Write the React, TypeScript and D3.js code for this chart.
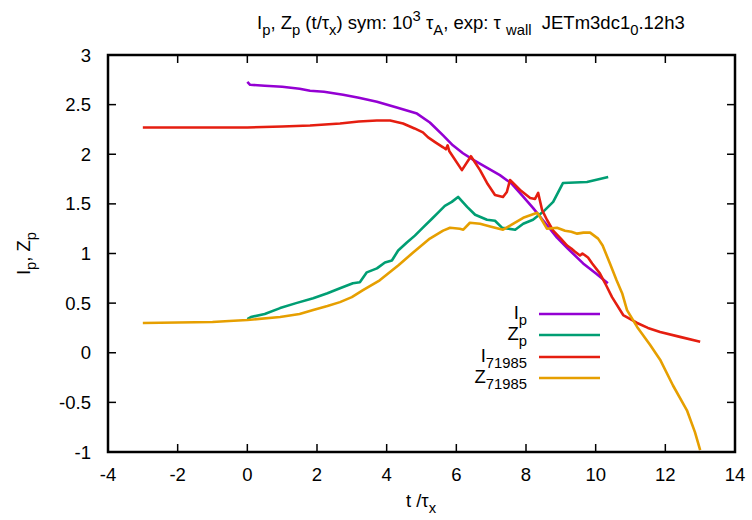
import React from "react";
import * as d3 from "d3";

const W = 752, H = 520;
const M = { left: 108, right: 735, top: 55, bottom: 452 };

const xTicks = [-4, -2, 0, 2, 4, 6, 8, 10, 12, 14];
const yTicks = [-1, -0.5, 0, 0.5, 1, 1.5, 2, 2.5, 3];

const ipT = [0, 0.08, 0.5, 1, 1.5, 1.8, 2.2, 2.75, 3.2, 3.72, 4.29, 4.87, 5.24, 5.62, 5.9, 6.19, 6.5, 6.9, 7.25, 7.6, 7.9, 8.2, 8.5, 8.89, 9.2, 9.64, 10.0, 10.35];
const ipV = [2.73, 2.70, 2.69, 2.68, 2.66, 2.64, 2.63, 2.60, 2.57, 2.53, 2.47, 2.41, 2.32, 2.19, 2.09, 2.01, 1.94, 1.86, 1.79, 1.70, 1.58, 1.46, 1.33, 1.16, 1.05, 0.90, 0.80, 0.70];

const zpT = [0, 0.1, 0.5, 0.94, 1.4, 1.89, 2.3, 2.66, 3.03, 3.23, 3.43, 3.72, 3.95, 4.15, 4.33, 4.58, 4.81, 5.04, 5.3, 5.47, 5.67, 5.87, 6.05, 6.31, 6.54, 6.88, 7.11, 7.31, 7.69, 7.92, 8.2, 8.49, 8.78, 9.06, 9.75, 10.36];
const zpV = [0.34, 0.36, 0.39, 0.45, 0.50, 0.55, 0.60, 0.65, 0.70, 0.71, 0.81, 0.85, 0.91, 0.93, 1.03, 1.11, 1.18, 1.26, 1.35, 1.41, 1.48, 1.52, 1.57, 1.47, 1.39, 1.34, 1.33, 1.26, 1.24, 1.30, 1.34, 1.42, 1.52, 1.71, 1.72, 1.77];

const i71T = [-3, -2, -1, 0, 1, 1.8, 2.66, 3.2, 3.72, 4.1, 4.47, 4.8, 5.04, 5.19, 5.4, 5.62, 5.7, 5.75, 5.8, 6.16, 6.42, 6.68, 6.9, 7.11, 7.34, 7.45, 7.54, 7.6, 7.83, 8.12, 8.26, 8.35, 8.46, 8.6, 8.78, 9.0, 9.18, 9.3, 9.4, 9.55, 9.62, 9.78, 9.9, 10.12, 10.3, 10.47, 10.79, 11.19, 11.5, 11.85, 12.42, 13.0];
const i71V = [2.27, 2.27, 2.27, 2.27, 2.28, 2.29, 2.31, 2.33, 2.34, 2.34, 2.31, 2.26, 2.22, 2.17, 2.12, 2.07, 2.05, 2.09, 2.03, 1.84, 1.98, 1.84, 1.70, 1.59, 1.57, 1.62, 1.74, 1.72, 1.64, 1.56, 1.55, 1.61, 1.44, 1.34, 1.23, 1.15, 1.08, 1.05, 1.02, 0.98, 1.00, 0.96, 0.90, 0.80, 0.68, 0.56, 0.38, 0.30, 0.25, 0.21, 0.16, 0.11];

const z71T = [-3, -2, -1, -0.52, 0, 0.94, 1.5, 1.89, 2.3, 2.66, 3.0, 3.32, 3.8, 4.33, 4.76, 5.24, 5.62, 5.82, 6.1, 6.2, 6.39, 6.68, 7.0, 7.34, 7.54, 7.92, 8.32, 8.4, 8.6, 8.89, 9.12, 9.3, 9.47, 9.65, 9.84, 10.07, 10.2, 10.41, 10.6, 10.76, 10.9, 11.19, 11.56, 11.85, 12.22, 12.62, 12.85, 13.0];
const z71V = [0.30, 0.305, 0.31, 0.32, 0.33, 0.36, 0.39, 0.43, 0.47, 0.51, 0.56, 0.63, 0.73, 0.88, 1.01, 1.15, 1.23, 1.26, 1.25, 1.24, 1.31, 1.30, 1.27, 1.24, 1.28, 1.36, 1.41, 1.37, 1.25, 1.26, 1.23, 1.22, 1.20, 1.21, 1.21, 1.15, 1.08, 0.90, 0.73, 0.60, 0.43, 0.26, 0.08, -0.07, -0.33, -0.58, -0.80, -0.98];

type Seg = { t: string; s?: "sub" | "sup" };

const seriesList: { name: Seg[]; t: number[]; v: number[]; color: string }[] = [
  { name: [{ t: "I" }, { t: "p", s: "sub" }], t: ipT, v: ipV, color: "#9400d3" },
  { name: [{ t: "Z" }, { t: "p", s: "sub" }], t: zpT, v: zpV, color: "#009e73" },
  { name: [{ t: "I" }, { t: "71985", s: "sub" }], t: i71T, v: i71V, color: "#e51e10" },
  { name: [{ t: "Z" }, { t: "71985", s: "sub" }], t: z71T, v: z71V, color: "#e69f00" },
];

const titleSegs: Seg[] = [
  { t: "I" }, { t: "p", s: "sub" }, { t: ", Z" }, { t: "p", s: "sub" }, { t: " (t/τ" }, { t: "x", s: "sub" },
  { t: ") sym: 10" }, { t: "3", s: "sup" }, { t: " τ" }, { t: "A", s: "sub" }, { t: ", exp: τ " }, { t: "wall", s: "sub" },
  { t: "  JETm3dc1" }, { t: "0", s: "sub" }, { t: ".12h3" },
];

const FONT = "'Liberation Sans', Arial, sans-serif";
const FS = 18.5;

function Rich({ segs, size }: { segs: Seg[]; size: number }) {
  let cur = 0;
  const out: React.ReactNode[] = [];
  segs.forEach((sg, i) => {
    const target = sg.s === "sub" ? size * 0.35 : sg.s === "sup" ? -size * 0.45 : 0;
    const dy = target - cur;
    cur = target;
    out.push(
      <tspan key={i} dy={dy} fontSize={sg.s ? size * 0.8 : size} style={{ whiteSpace: "pre" }}>
        {sg.t}
      </tspan>
    );
  });
  return <>{out}</>;
}

export default function App() {
  const x = d3.scaleLinear().domain([-4, 14]).range([M.left, M.right]);
  const y = d3.scaleLinear().domain([-1, 3]).range([M.bottom, M.top]);
  const line = d3
    .line<[number, number]>()
    .x((d) => x(d[0]))
    .y((d) => y(d[1]));

  const legendY = [314, 335, 357, 378];

  return (
    <svg
      width={W}
      height={H}
      style={{ position: "absolute", left: 0, top: 0, background: "#fff" }}
      fontFamily={FONT}
    >
      <rect x={0} y={0} width={W} height={H} fill="#fff" />
      <defs>
        <clipPath id="plotclip">
          <rect x={M.left} y={M.top} width={M.right - M.left} height={M.bottom - M.top} />
        </clipPath>
      </defs>

      {xTicks.map((t) => (
        <g key={"x" + t}>
          <line x1={x(t)} x2={x(t)} y1={M.bottom} y2={M.bottom - 8} stroke="#000" strokeWidth={1.5} />
          <line x1={x(t)} x2={x(t)} y1={M.top} y2={M.top + 8} stroke="#000" strokeWidth={1.5} />
          <text x={x(t)} y={481} textAnchor="middle" fontSize={FS}>
            {t}
          </text>
        </g>
      ))}
      {yTicks.map((t) => (
        <g key={"y" + t}>
          <line x1={M.left} x2={M.left + 8} y1={y(t)} y2={y(t)} stroke="#000" strokeWidth={1.5} />
          <line x1={M.right} x2={M.right - 8} y1={y(t)} y2={y(t)} stroke="#000" strokeWidth={1.5} />
          <text x={91} y={y(t) + 6.5} textAnchor="end" fontSize={FS}>
            {t}
          </text>
        </g>
      ))}

      <g clipPath="url(#plotclip)">
        {seriesList.map((s, i) => (
          <path
            key={i}
            d={line(s.t.map((t, j) => [t, s.v[j]] as [number, number])) || ""}
            fill="none"
            stroke={s.color}
            strokeWidth={2.6}
            strokeLinejoin="round"
          />
        ))}
      </g>

      <rect
        x={M.left}
        y={M.top}
        width={M.right - M.left}
        height={M.bottom - M.top}
        fill="none"
        stroke="#000"
        strokeWidth={2.5}
      />

      {seriesList.map((s, i) => (
        <g key={"l" + i}>
          <text x={527} y={legendY[i] + 5} textAnchor="end" fontSize={FS}>
            <Rich segs={s.name} size={FS} />
          </text>
          <line x1={539} x2={600} y1={legendY[i]} y2={legendY[i]} stroke={s.color} strokeWidth={2.6} />
        </g>
      ))}

      <text x={257} y={29} textAnchor="start" fontSize={FS}>
        <Rich segs={titleSegs} size={FS} />
      </text>

      <text x={421} y={507} textAnchor="middle" fontSize={FS}>
        <Rich segs={[{ t: "t /τ" }, { t: "x", s: "sub" }]} size={FS} />
      </text>
      <text transform={`translate(30,${(M.top + M.bottom) / 2}) rotate(-90)`} textAnchor="middle" fontSize={FS}>
        <Rich segs={[{ t: "I" }, { t: "p", s: "sub" }, { t: ", Z" }, { t: "p", s: "sub" }]} size={FS} />
      </text>
    </svg>
  );
}
